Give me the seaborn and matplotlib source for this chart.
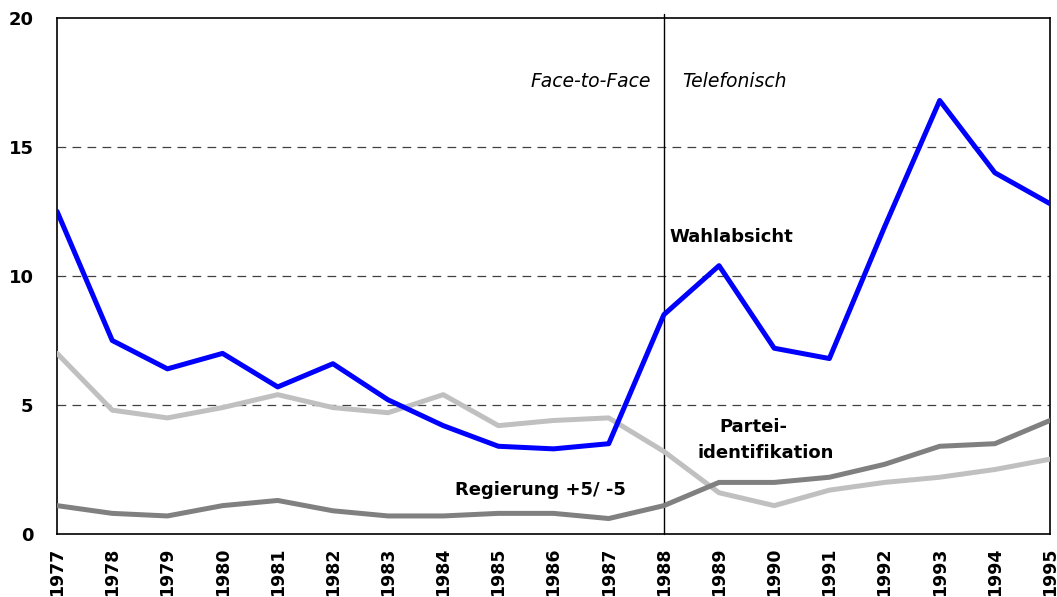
import seaborn as sns
import pandas as pd
from matplotlib import pyplot as plt

years = list(range(1977, 1996))
wahlabsicht = [12.5, 7.5, 6.4, 7.0, 5.7, 6.6, 5.2, 4.2, 3.4, 3.3, 3.5,
               8.5, 10.4, 7.2, 6.8, 11.9, 16.8, 14.0, 12.8]
partei_id = [7.0, 4.8, 4.5, 4.9, 5.4, 4.9, 4.7, 5.4, 4.2, 4.4, 4.5,
             3.2, 1.6, 1.1, 1.7, 2.0, 2.2, 2.5, 2.9]
regierung = [1.1, 0.8, 0.7, 1.1, 1.3, 0.9, 0.7, 0.7, 0.8, 0.8, 0.6,
             1.1, 2.0, 2.0, 2.2, 2.7, 3.4, 3.5, 4.4]
y_ticks = [0, 5, 10, 15, 20]


def main():
    sns.set_style("white")
    plt.rcParams["font.family"] = ["DejaVu Sans"]
    plt.rcParams["text.color"] = "black"
    plt.rcParams["xtick.color"] = "black"
    plt.rcParams["ytick.color"] = "black"

    df = pd.DataFrame({
        "Jahr": years * 3,
        "Wert": wahlabsicht + partei_id + regierung,
        "Reihe": ["Wahlabsicht"] * len(years)
        + ["Partei"] * len(years)
        + ["Regierung"] * len(years),
    })

    fig = plt.figure(figsize=(10.57, 5.97), dpi=100)
    ax = fig.add_axes([0.054, 0.1055, 0.9394, 0.8645])

    # grid first, so lines sit on top
    for v in y_ticks[1:-1]:
        ax.axhline(v, color="#404040", lw=0.9, ls=(0, (7, 5)), zorder=1)

    g = sns.lineplot(
        data=df,
        x="Jahr",
        y="Wert",
        hue="Reihe",
        palette={"Wahlabsicht": "#0000FF", "Partei": "#C0C0C0", "Regierung": "#808080"},
        hue_order=["Partei", "Regierung", "Wahlabsicht"],
        linewidth=3.6,
        legend=False,
        ax=ax,
        zorder=3,
    )
    ax.axvline(1988, color="black", lw=1.0, ymin=0, ymax=1.008, clip_on=False, zorder=2)

    g.set_xlim(1977, 1995)
    g.set_ylim(0, 20)
    g.set_xticks(years)
    g.set_xticklabels([str(y) for y in years], rotation=90, fontweight="bold", fontsize=12.5)
    g.set_yticks(y_ticks)
    g.set_yticklabels([str(v) for v in y_ticks], fontweight="bold", fontsize=13)
    g.tick_params(axis="x", length=0, pad=10)
    g.tick_params(axis="y", length=0, pad=17)
    g.set_xlabel("")
    g.set_ylabel("")
    for s in ax.spines.values():
        s.set_color("black")
        s.set_linewidth(1.2)

    ax.text(1987.77, 17.55, "Face-to-Face", style="italic", fontsize=13.5, ha="right", va="center")
    ax.text(1988.33, 17.55, "Telefonisch", style="italic", fontsize=13.5, ha="left", va="center")
    ax.text(1988.11, 11.5, "Wahlabsicht", fontweight="bold", fontsize=13, ha="left", va="center")
    ax.text(1989.63, 4.15, "Partei-", fontweight="bold", fontsize=13, ha="center", va="center")
    ax.text(1989.85, 3.15, "identifikation", fontweight="bold", fontsize=13,
            ha="center", va="center")
    ax.text(1985.77, 1.7, "Regierung +5/ -5", fontweight="bold", fontsize=13,
            ha="center", va="center")

    plt.savefig("out.png", dpi=100)


if __name__ == "__main__":
    main()
